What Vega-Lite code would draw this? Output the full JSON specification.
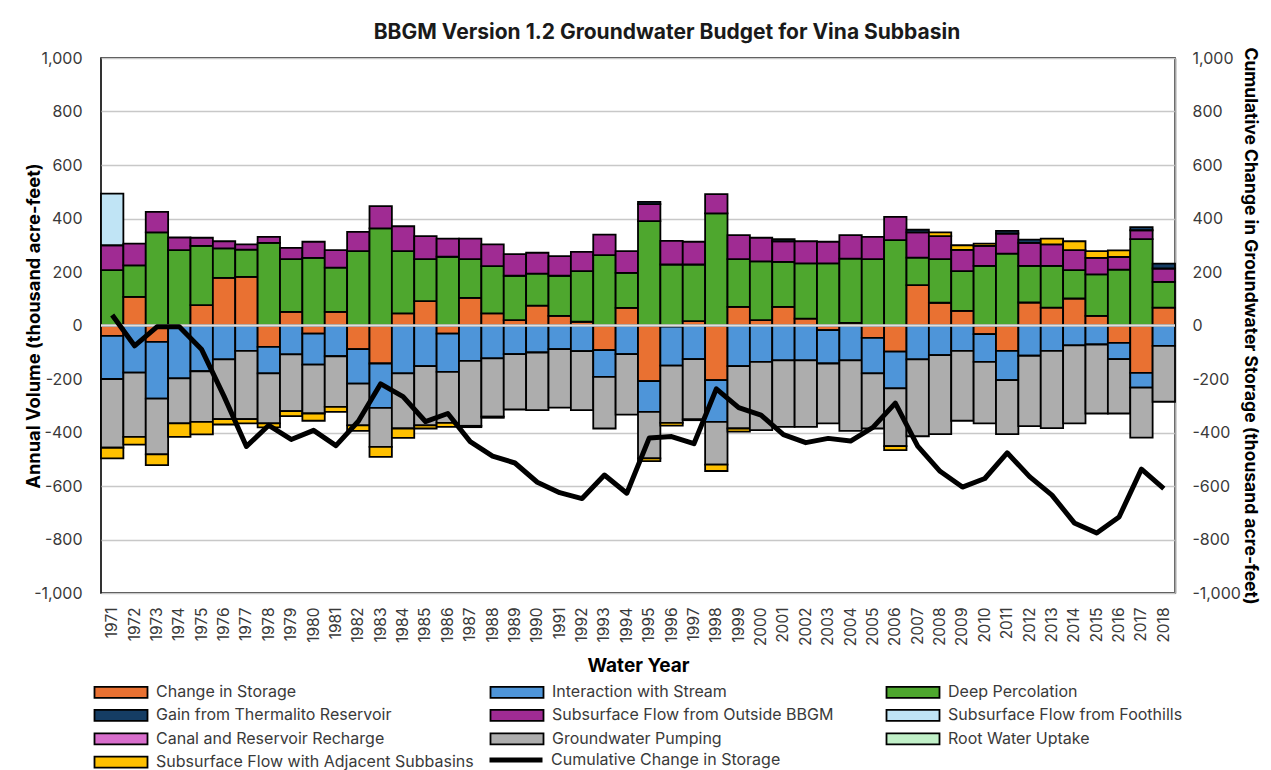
{
  "$schema": "https://vega.github.io/schema/vega-lite/v6.json",
  "width": 1074,
  "height": 535,
  "padding": {"left": 24, "top": 21, "right": 8, "bottom": 2},
  "background": "white",
  "title": {"text": "BBGM Version 1.2 Groundwater Budget for Vina Subbasin", "fontSize": 21, "fontWeight": "bold", "font": "Inter", "color": "#1a1a1a", "dx": 29, "offset": 4},
  "config": {
    "font": "Inter",
    "view": {"stroke": "#000", "strokeWidth": 1.6},
    "scale": {"bandPaddingInner": 0, "bandPaddingOuter": 0},
    "axisLeft": {"domain": false, "ticks": false, "labelPadding": 19, "labelFontSize": 16, "labelColor": "#3a3a3a", "titleFontSize": 18.3, "titleFontWeight": "bold", "titleColor": "#000", "gridColor": "#c8c8c8", "gridWidth": 1.5, "titlePadding": -10},
    "axisRight": {"domain": true, "domainColor": "#a6a6a6", "domainWidth": 2, "ticks": false, "grid": false, "labelPadding": 17, "labelFontSize": 16, "labelColor": "#3a3a3a", "titleFontSize": 17.5, "titleFontWeight": "bold", "titleColor": "#000", "titlePadding": 0},
    "axisBottom": {"domain": false, "ticks": false, "labelAngle": -90, "labelPadding": 14, "labelFontSize": 15.5, "labelColor": "#3a3a3a", "titleFontSize": 19, "titleFontWeight": "bold", "titleColor": "#000", "titlePadding": 10, "grid": false}
  },
  "datasets": {
    "budget": [
      {"year": 1971, "component": "Change in Storage", "value": -39},
      {"year": 1971, "component": "Interaction with Stream", "value": -161},
      {"year": 1971, "component": "Deep Percolation", "value": 207},
      {"year": 1971, "component": "Subsurface Flow from Outside BBGM", "value": 93},
      {"year": 1971, "component": "Subsurface Flow from Foothills", "value": 193},
      {"year": 1971, "component": "Groundwater Pumping", "value": -257},
      {"year": 1971, "component": "Subsurface Flow with Adjacent Subbasins", "value": -40},
      {"year": 1972, "component": "Change in Storage", "value": 107},
      {"year": 1972, "component": "Interaction with Stream", "value": -176},
      {"year": 1972, "component": "Deep Percolation", "value": 118},
      {"year": 1972, "component": "Subsurface Flow from Outside BBGM", "value": 81},
      {"year": 1972, "component": "Groundwater Pumping", "value": -240},
      {"year": 1972, "component": "Subsurface Flow with Adjacent Subbasins", "value": -29},
      {"year": 1973, "component": "Change in Storage", "value": -61},
      {"year": 1973, "component": "Interaction with Stream", "value": -212},
      {"year": 1973, "component": "Deep Percolation", "value": 348},
      {"year": 1973, "component": "Subsurface Flow from Outside BBGM", "value": 77},
      {"year": 1973, "component": "Groundwater Pumping", "value": -209},
      {"year": 1973, "component": "Subsurface Flow with Adjacent Subbasins", "value": -40},
      {"year": 1974, "component": "Interaction with Stream", "value": -198},
      {"year": 1974, "component": "Deep Percolation", "value": 282},
      {"year": 1974, "component": "Subsurface Flow from Outside BBGM", "value": 47},
      {"year": 1974, "component": "Groundwater Pumping", "value": -168},
      {"year": 1974, "component": "Subsurface Flow with Adjacent Subbasins", "value": -50},
      {"year": 1975, "component": "Change in Storage", "value": 76},
      {"year": 1975, "component": "Interaction with Stream", "value": -171},
      {"year": 1975, "component": "Deep Percolation", "value": 222},
      {"year": 1975, "component": "Subsurface Flow from Outside BBGM", "value": 30},
      {"year": 1975, "component": "Groundwater Pumping", "value": -189},
      {"year": 1975, "component": "Subsurface Flow with Adjacent Subbasins", "value": -47},
      {"year": 1976, "component": "Change in Storage", "value": 178},
      {"year": 1976, "component": "Interaction with Stream", "value": -127},
      {"year": 1976, "component": "Deep Percolation", "value": 110},
      {"year": 1976, "component": "Subsurface Flow from Outside BBGM", "value": 27},
      {"year": 1976, "component": "Groundwater Pumping", "value": -223},
      {"year": 1976, "component": "Subsurface Flow with Adjacent Subbasins", "value": -20},
      {"year": 1977, "component": "Change in Storage", "value": 182},
      {"year": 1977, "component": "Interaction with Stream", "value": -95},
      {"year": 1977, "component": "Deep Percolation", "value": 102},
      {"year": 1977, "component": "Subsurface Flow from Outside BBGM", "value": 19},
      {"year": 1977, "component": "Groundwater Pumping", "value": -255},
      {"year": 1977, "component": "Subsurface Flow with Adjacent Subbasins", "value": -16},
      {"year": 1978, "component": "Change in Storage", "value": -80},
      {"year": 1978, "component": "Interaction with Stream", "value": -99},
      {"year": 1978, "component": "Deep Percolation", "value": 309},
      {"year": 1978, "component": "Subsurface Flow from Outside BBGM", "value": 22},
      {"year": 1978, "component": "Groundwater Pumping", "value": -187},
      {"year": 1978, "component": "Subsurface Flow with Adjacent Subbasins", "value": -15},
      {"year": 1979, "component": "Change in Storage", "value": 51},
      {"year": 1979, "component": "Interaction with Stream", "value": -108},
      {"year": 1979, "component": "Deep Percolation", "value": 197},
      {"year": 1979, "component": "Subsurface Flow from Outside BBGM", "value": 42},
      {"year": 1979, "component": "Groundwater Pumping", "value": -212},
      {"year": 1979, "component": "Subsurface Flow with Adjacent Subbasins", "value": -19},
      {"year": 1980, "component": "Change in Storage", "value": -30},
      {"year": 1980, "component": "Interaction with Stream", "value": -116},
      {"year": 1980, "component": "Deep Percolation", "value": 253},
      {"year": 1980, "component": "Subsurface Flow from Outside BBGM", "value": 60},
      {"year": 1980, "component": "Groundwater Pumping", "value": -183},
      {"year": 1980, "component": "Subsurface Flow with Adjacent Subbasins", "value": -27},
      {"year": 1981, "component": "Change in Storage", "value": 51},
      {"year": 1981, "component": "Interaction with Stream", "value": -115},
      {"year": 1981, "component": "Deep Percolation", "value": 165},
      {"year": 1981, "component": "Subsurface Flow from Outside BBGM", "value": 66},
      {"year": 1981, "component": "Groundwater Pumping", "value": -189},
      {"year": 1981, "component": "Subsurface Flow with Adjacent Subbasins", "value": -19},
      {"year": 1982, "component": "Change in Storage", "value": -88},
      {"year": 1982, "component": "Interaction with Stream", "value": -129},
      {"year": 1982, "component": "Deep Percolation", "value": 278},
      {"year": 1982, "component": "Subsurface Flow from Outside BBGM", "value": 72},
      {"year": 1982, "component": "Groundwater Pumping", "value": -156},
      {"year": 1982, "component": "Subsurface Flow with Adjacent Subbasins", "value": -21},
      {"year": 1983, "component": "Change in Storage", "value": -142},
      {"year": 1983, "component": "Interaction with Stream", "value": -166},
      {"year": 1983, "component": "Deep Percolation", "value": 363},
      {"year": 1983, "component": "Subsurface Flow from Outside BBGM", "value": 83},
      {"year": 1983, "component": "Groundwater Pumping", "value": -146},
      {"year": 1983, "component": "Subsurface Flow with Adjacent Subbasins", "value": -37},
      {"year": 1984, "component": "Change in Storage", "value": 45},
      {"year": 1984, "component": "Interaction with Stream", "value": -179},
      {"year": 1984, "component": "Deep Percolation", "value": 233},
      {"year": 1984, "component": "Subsurface Flow from Outside BBGM", "value": 93},
      {"year": 1984, "component": "Groundwater Pumping", "value": -206},
      {"year": 1984, "component": "Subsurface Flow with Adjacent Subbasins", "value": -35},
      {"year": 1985, "component": "Change in Storage", "value": 91},
      {"year": 1985, "component": "Interaction with Stream", "value": -152},
      {"year": 1985, "component": "Deep Percolation", "value": 157},
      {"year": 1985, "component": "Subsurface Flow from Outside BBGM", "value": 86},
      {"year": 1985, "component": "Groundwater Pumping", "value": -221},
      {"year": 1985, "component": "Subsurface Flow with Adjacent Subbasins", "value": -12},
      {"year": 1986, "component": "Change in Storage", "value": -30},
      {"year": 1986, "component": "Interaction with Stream", "value": -143},
      {"year": 1986, "component": "Deep Percolation", "value": 257},
      {"year": 1986, "component": "Subsurface Flow from Outside BBGM", "value": 68},
      {"year": 1986, "component": "Groundwater Pumping", "value": -191},
      {"year": 1986, "component": "Subsurface Flow with Adjacent Subbasins", "value": -15},
      {"year": 1987, "component": "Change in Storage", "value": 103},
      {"year": 1987, "component": "Interaction with Stream", "value": -132},
      {"year": 1987, "component": "Deep Percolation", "value": 145},
      {"year": 1987, "component": "Subsurface Flow from Outside BBGM", "value": 77},
      {"year": 1987, "component": "Groundwater Pumping", "value": -243},
      {"year": 1987, "component": "Subsurface Flow with Adjacent Subbasins", "value": -5},
      {"year": 1988, "component": "Change in Storage", "value": 45},
      {"year": 1988, "component": "Interaction with Stream", "value": -123},
      {"year": 1988, "component": "Deep Percolation", "value": 177},
      {"year": 1988, "component": "Subsurface Flow from Outside BBGM", "value": 81},
      {"year": 1988, "component": "Groundwater Pumping", "value": -218},
      {"year": 1988, "component": "Subsurface Flow with Adjacent Subbasins", "value": -4},
      {"year": 1989, "component": "Change in Storage", "value": 20},
      {"year": 1989, "component": "Interaction with Stream", "value": -107},
      {"year": 1989, "component": "Deep Percolation", "value": 166},
      {"year": 1989, "component": "Subsurface Flow from Outside BBGM", "value": 81},
      {"year": 1989, "component": "Groundwater Pumping", "value": -207},
      {"year": 1990, "component": "Change in Storage", "value": 74},
      {"year": 1990, "component": "Interaction with Stream", "value": -101},
      {"year": 1990, "component": "Deep Percolation", "value": 120},
      {"year": 1990, "component": "Subsurface Flow from Outside BBGM", "value": 78},
      {"year": 1990, "component": "Groundwater Pumping", "value": -215},
      {"year": 1991, "component": "Change in Storage", "value": 36},
      {"year": 1991, "component": "Interaction with Stream", "value": -88},
      {"year": 1991, "component": "Deep Percolation", "value": 150},
      {"year": 1991, "component": "Subsurface Flow from Outside BBGM", "value": 73},
      {"year": 1991, "component": "Groundwater Pumping", "value": -219},
      {"year": 1992, "component": "Change in Storage", "value": 14},
      {"year": 1992, "component": "Interaction with Stream", "value": -96},
      {"year": 1992, "component": "Deep Percolation", "value": 189},
      {"year": 1992, "component": "Subsurface Flow from Outside BBGM", "value": 72},
      {"year": 1992, "component": "Groundwater Pumping", "value": -220},
      {"year": 1993, "component": "Change in Storage", "value": -92},
      {"year": 1993, "component": "Interaction with Stream", "value": -100},
      {"year": 1993, "component": "Deep Percolation", "value": 263},
      {"year": 1993, "component": "Subsurface Flow from Outside BBGM", "value": 77},
      {"year": 1993, "component": "Groundwater Pumping", "value": -193},
      {"year": 1994, "component": "Change in Storage", "value": 66},
      {"year": 1994, "component": "Interaction with Stream", "value": -107},
      {"year": 1994, "component": "Deep Percolation", "value": 131},
      {"year": 1994, "component": "Subsurface Flow from Outside BBGM", "value": 81},
      {"year": 1994, "component": "Groundwater Pumping", "value": -226},
      {"year": 1995, "component": "Change in Storage", "value": -208},
      {"year": 1995, "component": "Interaction with Stream", "value": -115},
      {"year": 1995, "component": "Deep Percolation", "value": 390},
      {"year": 1995, "component": "Subsurface Flow from Outside BBGM", "value": 64},
      {"year": 1995, "component": "Gain from Thermalito Reservoir", "value": 8},
      {"year": 1995, "component": "Groundwater Pumping", "value": -174},
      {"year": 1995, "component": "Subsurface Flow with Adjacent Subbasins", "value": -10},
      {"year": 1996, "component": "Change in Storage", "value": -4},
      {"year": 1996, "component": "Interaction with Stream", "value": -146},
      {"year": 1996, "component": "Deep Percolation", "value": 228},
      {"year": 1996, "component": "Subsurface Flow from Outside BBGM", "value": 88},
      {"year": 1996, "component": "Groundwater Pumping", "value": -214},
      {"year": 1996, "component": "Subsurface Flow with Adjacent Subbasins", "value": -10},
      {"year": 1997, "component": "Change in Storage", "value": 16},
      {"year": 1997, "component": "Interaction with Stream", "value": -126},
      {"year": 1997, "component": "Deep Percolation", "value": 212},
      {"year": 1997, "component": "Subsurface Flow from Outside BBGM", "value": 85},
      {"year": 1997, "component": "Groundwater Pumping", "value": -225},
      {"year": 1997, "component": "Subsurface Flow with Adjacent Subbasins", "value": -3},
      {"year": 1998, "component": "Change in Storage", "value": -204},
      {"year": 1998, "component": "Interaction with Stream", "value": -156},
      {"year": 1998, "component": "Deep Percolation", "value": 419},
      {"year": 1998, "component": "Subsurface Flow from Outside BBGM", "value": 72},
      {"year": 1998, "component": "Groundwater Pumping", "value": -160},
      {"year": 1998, "component": "Subsurface Flow with Adjacent Subbasins", "value": -24},
      {"year": 1999, "component": "Change in Storage", "value": 70},
      {"year": 1999, "component": "Interaction with Stream", "value": -152},
      {"year": 1999, "component": "Deep Percolation", "value": 178},
      {"year": 1999, "component": "Subsurface Flow from Outside BBGM", "value": 90},
      {"year": 1999, "component": "Groundwater Pumping", "value": -233},
      {"year": 1999, "component": "Subsurface Flow with Adjacent Subbasins", "value": -12},
      {"year": 2000, "component": "Change in Storage", "value": 20},
      {"year": 2000, "component": "Interaction with Stream", "value": -136},
      {"year": 2000, "component": "Deep Percolation", "value": 220},
      {"year": 2000, "component": "Subsurface Flow from Outside BBGM", "value": 88},
      {"year": 2000, "component": "Groundwater Pumping", "value": -255},
      {"year": 2001, "component": "Change in Storage", "value": 70},
      {"year": 2001, "component": "Interaction with Stream", "value": -130},
      {"year": 2001, "component": "Deep Percolation", "value": 168},
      {"year": 2001, "component": "Subsurface Flow from Outside BBGM", "value": 77},
      {"year": 2001, "component": "Gain from Thermalito Reservoir", "value": 8},
      {"year": 2001, "component": "Groundwater Pumping", "value": -249},
      {"year": 2002, "component": "Change in Storage", "value": 26},
      {"year": 2002, "component": "Interaction with Stream", "value": -130},
      {"year": 2002, "component": "Deep Percolation", "value": 206},
      {"year": 2002, "component": "Subsurface Flow from Outside BBGM", "value": 83},
      {"year": 2002, "component": "Groundwater Pumping", "value": -249},
      {"year": 2003, "component": "Change in Storage", "value": -17},
      {"year": 2003, "component": "Interaction with Stream", "value": -125},
      {"year": 2003, "component": "Deep Percolation", "value": 232},
      {"year": 2003, "component": "Subsurface Flow from Outside BBGM", "value": 81},
      {"year": 2003, "component": "Groundwater Pumping", "value": -224},
      {"year": 2004, "component": "Change in Storage", "value": 10},
      {"year": 2004, "component": "Interaction with Stream", "value": -130},
      {"year": 2004, "component": "Deep Percolation", "value": 240},
      {"year": 2004, "component": "Subsurface Flow from Outside BBGM", "value": 88},
      {"year": 2004, "component": "Groundwater Pumping", "value": -264},
      {"year": 2005, "component": "Change in Storage", "value": -46},
      {"year": 2005, "component": "Interaction with Stream", "value": -133},
      {"year": 2005, "component": "Deep Percolation", "value": 248},
      {"year": 2005, "component": "Subsurface Flow from Outside BBGM", "value": 83},
      {"year": 2005, "component": "Groundwater Pumping", "value": -206},
      {"year": 2006, "component": "Change in Storage", "value": -98},
      {"year": 2006, "component": "Interaction with Stream", "value": -137},
      {"year": 2006, "component": "Deep Percolation", "value": 319},
      {"year": 2006, "component": "Subsurface Flow from Outside BBGM", "value": 87},
      {"year": 2006, "component": "Groundwater Pumping", "value": -216},
      {"year": 2006, "component": "Subsurface Flow with Adjacent Subbasins", "value": -15},
      {"year": 2007, "component": "Change in Storage", "value": 151},
      {"year": 2007, "component": "Interaction with Stream", "value": -127},
      {"year": 2007, "component": "Deep Percolation", "value": 103},
      {"year": 2007, "component": "Subsurface Flow from Outside BBGM", "value": 94},
      {"year": 2007, "component": "Gain from Thermalito Reservoir", "value": 10},
      {"year": 2007, "component": "Groundwater Pumping", "value": -287},
      {"year": 2008, "component": "Change in Storage", "value": 85},
      {"year": 2008, "component": "Interaction with Stream", "value": -111},
      {"year": 2008, "component": "Deep Percolation", "value": 163},
      {"year": 2008, "component": "Subsurface Flow from Outside BBGM", "value": 86},
      {"year": 2008, "component": "Groundwater Pumping", "value": -295},
      {"year": 2008, "component": "Subsurface Flow with Adjacent Subbasins", "value": 14},
      {"year": 2009, "component": "Change in Storage", "value": 55},
      {"year": 2009, "component": "Interaction with Stream", "value": -95},
      {"year": 2009, "component": "Deep Percolation", "value": 148},
      {"year": 2009, "component": "Subsurface Flow from Outside BBGM", "value": 80},
      {"year": 2009, "component": "Groundwater Pumping", "value": -261},
      {"year": 2009, "component": "Subsurface Flow with Adjacent Subbasins", "value": 17},
      {"year": 2010, "component": "Change in Storage", "value": -32},
      {"year": 2010, "component": "Interaction with Stream", "value": -104},
      {"year": 2010, "component": "Deep Percolation", "value": 223},
      {"year": 2010, "component": "Subsurface Flow from Outside BBGM", "value": 75},
      {"year": 2010, "component": "Groundwater Pumping", "value": -230},
      {"year": 2010, "component": "Subsurface Flow with Adjacent Subbasins", "value": 8},
      {"year": 2011, "component": "Change in Storage", "value": -95},
      {"year": 2011, "component": "Interaction with Stream", "value": -109},
      {"year": 2011, "component": "Deep Percolation", "value": 269},
      {"year": 2011, "component": "Subsurface Flow from Outside BBGM", "value": 75},
      {"year": 2011, "component": "Gain from Thermalito Reservoir", "value": 10},
      {"year": 2011, "component": "Groundwater Pumping", "value": -202},
      {"year": 2012, "component": "Change in Storage", "value": 86},
      {"year": 2012, "component": "Interaction with Stream", "value": -113},
      {"year": 2012, "component": "Deep Percolation", "value": 137},
      {"year": 2012, "component": "Subsurface Flow from Outside BBGM", "value": 86},
      {"year": 2012, "component": "Gain from Thermalito Reservoir", "value": 12},
      {"year": 2012, "component": "Groundwater Pumping", "value": -263},
      {"year": 2013, "component": "Change in Storage", "value": 67},
      {"year": 2013, "component": "Interaction with Stream", "value": -95},
      {"year": 2013, "component": "Deep Percolation", "value": 156},
      {"year": 2013, "component": "Subsurface Flow from Outside BBGM", "value": 80},
      {"year": 2013, "component": "Groundwater Pumping", "value": -289},
      {"year": 2013, "component": "Subsurface Flow with Adjacent Subbasins", "value": 22},
      {"year": 2014, "component": "Change in Storage", "value": 101},
      {"year": 2014, "component": "Interaction with Stream", "value": -74},
      {"year": 2014, "component": "Deep Percolation", "value": 106},
      {"year": 2014, "component": "Subsurface Flow from Outside BBGM", "value": 75},
      {"year": 2014, "component": "Groundwater Pumping", "value": -292},
      {"year": 2014, "component": "Subsurface Flow with Adjacent Subbasins", "value": 33},
      {"year": 2015, "component": "Change in Storage", "value": 36},
      {"year": 2015, "component": "Interaction with Stream", "value": -71},
      {"year": 2015, "component": "Deep Percolation", "value": 155},
      {"year": 2015, "component": "Subsurface Flow from Outside BBGM", "value": 62},
      {"year": 2015, "component": "Groundwater Pumping", "value": -258},
      {"year": 2015, "component": "Subsurface Flow with Adjacent Subbasins", "value": 25},
      {"year": 2016, "component": "Change in Storage", "value": -65},
      {"year": 2016, "component": "Interaction with Stream", "value": -61},
      {"year": 2016, "component": "Deep Percolation", "value": 209},
      {"year": 2016, "component": "Subsurface Flow from Outside BBGM", "value": 47},
      {"year": 2016, "component": "Groundwater Pumping", "value": -203},
      {"year": 2016, "component": "Subsurface Flow with Adjacent Subbasins", "value": 25},
      {"year": 2017, "component": "Change in Storage", "value": -177},
      {"year": 2017, "component": "Interaction with Stream", "value": -55},
      {"year": 2017, "component": "Deep Percolation", "value": 323},
      {"year": 2017, "component": "Subsurface Flow from Outside BBGM", "value": 33},
      {"year": 2017, "component": "Gain from Thermalito Reservoir", "value": 12},
      {"year": 2017, "component": "Groundwater Pumping", "value": -187},
      {"year": 2018, "component": "Change in Storage", "value": 67},
      {"year": 2018, "component": "Interaction with Stream", "value": -76},
      {"year": 2018, "component": "Deep Percolation", "value": 96},
      {"year": 2018, "component": "Subsurface Flow from Outside BBGM", "value": 50},
      {"year": 2018, "component": "Gain from Thermalito Reservoir", "value": 18},
      {"year": 2018, "component": "Groundwater Pumping", "value": -209}
    ],
    "cumulative": [
      {"year": 1971, "series": "Cumulative Change in Storage", "value": 39},
      {"year": 1972, "series": "Cumulative Change in Storage", "value": -76},
      {"year": 1973, "series": "Cumulative Change in Storage", "value": -5},
      {"year": 1974, "series": "Cumulative Change in Storage", "value": -5},
      {"year": 1975, "series": "Cumulative Change in Storage", "value": -90},
      {"year": 1976, "series": "Cumulative Change in Storage", "value": -265},
      {"year": 1977, "series": "Cumulative Change in Storage", "value": -452},
      {"year": 1978, "series": "Cumulative Change in Storage", "value": -373},
      {"year": 1979, "series": "Cumulative Change in Storage", "value": -426},
      {"year": 1980, "series": "Cumulative Change in Storage", "value": -392},
      {"year": 1981, "series": "Cumulative Change in Storage", "value": -449},
      {"year": 1982, "series": "Cumulative Change in Storage", "value": -358},
      {"year": 1983, "series": "Cumulative Change in Storage", "value": -218},
      {"year": 1984, "series": "Cumulative Change in Storage", "value": -266},
      {"year": 1985, "series": "Cumulative Change in Storage", "value": -359},
      {"year": 1986, "series": "Cumulative Change in Storage", "value": -329},
      {"year": 1987, "series": "Cumulative Change in Storage", "value": -434},
      {"year": 1988, "series": "Cumulative Change in Storage", "value": -488},
      {"year": 1989, "series": "Cumulative Change in Storage", "value": -514},
      {"year": 1990, "series": "Cumulative Change in Storage", "value": -586},
      {"year": 1991, "series": "Cumulative Change in Storage", "value": -625},
      {"year": 1992, "series": "Cumulative Change in Storage", "value": -647},
      {"year": 1993, "series": "Cumulative Change in Storage", "value": -559},
      {"year": 1994, "series": "Cumulative Change in Storage", "value": -627},
      {"year": 1995, "series": "Cumulative Change in Storage", "value": -421},
      {"year": 1996, "series": "Cumulative Change in Storage", "value": -415},
      {"year": 1997, "series": "Cumulative Change in Storage", "value": -442},
      {"year": 1998, "series": "Cumulative Change in Storage", "value": -237},
      {"year": 1999, "series": "Cumulative Change in Storage", "value": -307},
      {"year": 2000, "series": "Cumulative Change in Storage", "value": -335},
      {"year": 2001, "series": "Cumulative Change in Storage", "value": -408},
      {"year": 2002, "series": "Cumulative Change in Storage", "value": -438},
      {"year": 2003, "series": "Cumulative Change in Storage", "value": -422},
      {"year": 2004, "series": "Cumulative Change in Storage", "value": -432},
      {"year": 2005, "series": "Cumulative Change in Storage", "value": -381},
      {"year": 2006, "series": "Cumulative Change in Storage", "value": -290},
      {"year": 2007, "series": "Cumulative Change in Storage", "value": -451},
      {"year": 2008, "series": "Cumulative Change in Storage", "value": -545},
      {"year": 2009, "series": "Cumulative Change in Storage", "value": -604},
      {"year": 2010, "series": "Cumulative Change in Storage", "value": -572},
      {"year": 2011, "series": "Cumulative Change in Storage", "value": -476},
      {"year": 2012, "series": "Cumulative Change in Storage", "value": -565},
      {"year": 2013, "series": "Cumulative Change in Storage", "value": -634},
      {"year": 2014, "series": "Cumulative Change in Storage", "value": -738},
      {"year": 2015, "series": "Cumulative Change in Storage", "value": -776},
      {"year": 2016, "series": "Cumulative Change in Storage", "value": -716},
      {"year": 2017, "series": "Cumulative Change in Storage", "value": -537},
      {"year": 2018, "series": "Cumulative Change in Storage", "value": -610}
    ]
  },
  "layer": [
    {
      "data": {"name": "budget"},
      "transform": [
        {"calculate": "indexof(['Change in Storage','Interaction with Stream','Deep Percolation','Subsurface Flow from Outside BBGM','Subsurface Flow from Foothills','Gain from Thermalito Reservoir','Canal and Reservoir Recharge','Groundwater Pumping','Root Water Uptake','Subsurface Flow with Adjacent Subbasins'], datum.component)", "as": "stackOrder"}
      ],
      "mark": {"type": "bar", "stroke": "#000", "strokeWidth": 1.8},
      "encoding": {
        "x": {"field": "year", "type": "ordinal", "title": "Water Year", "scale": {"paddingInner": 0, "paddingOuter": 0}},
        "y": {
          "field": "value", "type": "quantitative", "stack": "zero",
          "scale": {"domain": [-1000, 1000], "nice": false},
          "axis": {"orient": "left", "values": [-1000, -800, -600, -400, -200, 0, 200, 400, 600, 800, 1000], "labelExpr": "(datum.value < 0 ? '-' : '') + format(abs(datum.value), ',')", "title": "Annual Volume (thousand acre-feet)", "grid": true}
        },
        "color": {
          "field": "component", "type": "nominal",
          "scale": {
            "domain": ["Change in Storage", "Interaction with Stream", "Deep Percolation", "Gain from Thermalito Reservoir", "Subsurface Flow from Outside BBGM", "Subsurface Flow from Foothills", "Canal and Reservoir Recharge", "Groundwater Pumping", "Root Water Uptake", "Subsurface Flow with Adjacent Subbasins"],
            "range": ["#E97132", "#4E95D9", "#4EA72E", "#153D64", "#A02B93", "#C0E4F5", "#D86ECC", "#ADADAD", "#C1F0C8", "#FFC000"]
          },
          "legend": {
            "orient": "none", "legendX": 12, "legendY": 626, "columns": 3, "direction": "horizontal", "gridAlign": "all",
            "title": null, "padding": 0, "symbolSize": 100, "symbolType": "M-5.3,-1.1H5.3V1.1H-5.3Z",
            "symbolStrokeColor": "#000", "symbolStrokeWidth": 1.8, "symbolOpacity": 1,
            "labelFontSize": 16, "labelColor": "#3a3a3a", "labelOffset": 27, "labelLimit": 400,
            "columnPadding": 12, "rowPadding": 3.4
          }
        },
        "order": {"field": "stackOrder", "type": "quantitative", "sort": "ascending"}
      }
    },
    {
      "data": {"values": [{}]},
      "mark": {"type": "rule", "color": "#dedede", "strokeWidth": 2.5},
      "encoding": {
        "y": {"datum": 0, "type": "quantitative", "scale": {"domain": [-1000, 1000], "nice": false}, "axis": null}
      }
    },
    {
      "data": {"name": "cumulative"},
      "mark": {"type": "line", "strokeWidth": 5, "strokeJoin": "round"},
      "encoding": {
        "x": {"field": "year", "type": "ordinal", "title": "Water Year"},
        "y": {
          "field": "value", "type": "quantitative",
          "scale": {"domain": [-1000, 1000], "nice": false},
          "axis": {"orient": "right", "values": [-1000, -800, -600, -400, -200, 0, 200, 400, 600, 800, 1000], "labelExpr": "(datum.value < 0 ? '-' : '') + format(abs(datum.value), ',')", "title": "Cumulative Change in Groundwater Storage (thousand acre-feet)", "grid": false}
        },
        "stroke": {
          "field": "series", "type": "nominal",
          "scale": {"range": ["#000000"]},
          "legend": {
            "orient": "none", "legendX": 407, "legendY": 694, "title": null, "padding": 0,
            "symbolSize": 100, "symbolType": "M-5.3,0H5.3", "symbolStrokeWidth": 5, "symbolStrokeColor": "#000",
            "labelFontSize": 16, "labelColor": "#3a3a3a", "labelOffset": 27, "labelLimit": 400
          }
        }
      }
    }
  ],
  "resolve": {"scale": {"y": "independent"}}
}
